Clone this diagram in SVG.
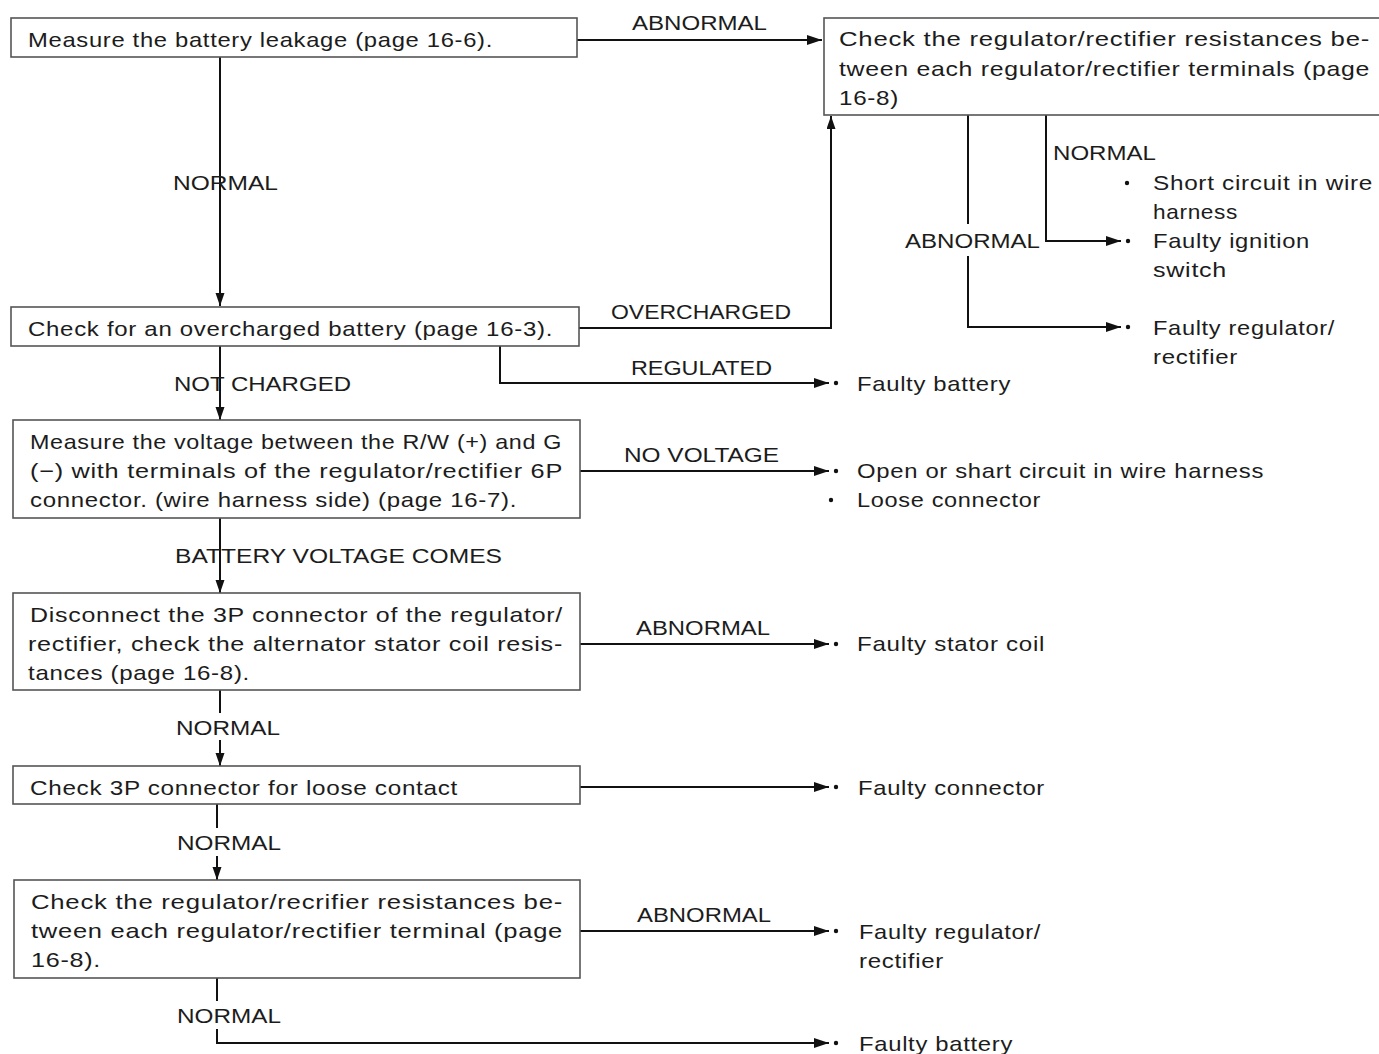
<svg xmlns="http://www.w3.org/2000/svg" width="1379" height="1054" viewBox="0 0 1379 1054">
<style>
text{font-family:"Liberation Sans",Arial,sans-serif;font-size:21px;letter-spacing:0.6px;fill:#1c1c1c}
.lb{font-size:20px;letter-spacing:0}
.box{fill:#fff;stroke:#555;stroke-width:1.6}
.ln{fill:none;stroke:#111;stroke-width:2}
.dot{fill:#111}
</style>
<defs>
<marker id="ah" markerUnits="userSpaceOnUse" markerWidth="16" markerHeight="12" refX="15" refY="5" orient="auto">
<path d="M0,0 L15,5 L0,10 z" fill="#111"/>
</marker>
<marker id="av" markerUnits="userSpaceOnUse" markerWidth="14" markerHeight="10" refX="13" refY="4.5" orient="auto">
<path d="M0,0 L13,4.5 L0,9 z" fill="#111"/>
</marker>
</defs>
<rect width="1379" height="1054" fill="#fff"/>

<g id="connectors">
<path class="ln" d="M577,40 H822" marker-end="url(#ah)"/>
<path class="ln" d="M220,57 V306" marker-end="url(#av)"/>
<path class="ln" d="M579,328 H831 V116" marker-end="url(#av)"/>
<path class="ln" d="M500,346 V383 H829" marker-end="url(#ah)"/>
<path class="ln" d="M220,346 V420" marker-end="url(#av)"/>
<path class="ln" d="M580,471 H829" marker-end="url(#ah)"/>
<path class="ln" d="M220,518 V593" marker-end="url(#av)"/>
<path class="ln" d="M580,644 H829" marker-end="url(#ah)"/>
<path class="ln" d="M220,690 V713"/>
<path class="ln" d="M220,740 V766" marker-end="url(#av)"/>
<path class="ln" d="M580,787 H829" marker-end="url(#ah)"/>
<path class="ln" d="M217,804 V828"/>
<path class="ln" d="M217,856 V880" marker-end="url(#av)"/>
<path class="ln" d="M580,931 H829" marker-end="url(#ah)"/>
<path class="ln" d="M217,978 V1001"/>
<path class="ln" d="M217,1029 V1043 H829" marker-end="url(#ah)"/>
<path class="ln" d="M1046,115 V241 H1121" marker-end="url(#ah)"/>
<path class="ln" d="M968,115 V224"/>
<path class="ln" d="M968,256 V327 H1121" marker-end="url(#ah)"/>
<circle class="dot" cx="836" cy="383" r="2.2"/>
<circle class="dot" cx="836" cy="471" r="2.2"/>
<circle class="dot" cx="831" cy="500" r="2.2"/>
<circle class="dot" cx="836" cy="644" r="2.2"/>
<circle class="dot" cx="836" cy="787" r="2.2"/>
<circle class="dot" cx="836" cy="931" r="2.2"/>
<circle class="dot" cx="836" cy="1043" r="2.2"/>
<circle class="dot" cx="1127" cy="183" r="2.2"/>
<circle class="dot" cx="1128" cy="241" r="2.2"/>
<circle class="dot" cx="1128" cy="327" r="2.2"/>
<text class="lb" x="632" y="30" textLength="135" lengthAdjust="spacingAndGlyphs">ABNORMAL</text>
<text class="lb" x="173" y="190" textLength="105" lengthAdjust="spacingAndGlyphs">NORMAL</text>
<text class="lb" x="611" y="319" textLength="180" lengthAdjust="spacingAndGlyphs">OVERCHARGED</text>
<text class="lb" x="631" y="375" textLength="141" lengthAdjust="spacingAndGlyphs">REGULATED</text>
<text class="lb" x="174" y="391" textLength="177" lengthAdjust="spacingAndGlyphs">NOT CHARGED</text>
<text class="lb" x="624" y="462" textLength="155" lengthAdjust="spacingAndGlyphs">NO VOLTAGE</text>
<text class="lb" x="175" y="563" textLength="327" lengthAdjust="spacingAndGlyphs">BATTERY VOLTAGE COMES</text>
<text class="lb" x="636" y="635" textLength="134" lengthAdjust="spacingAndGlyphs">ABNORMAL</text>
<text class="lb" x="176" y="735" textLength="104" lengthAdjust="spacingAndGlyphs">NORMAL</text>
<text class="lb" x="177" y="850" textLength="104" lengthAdjust="spacingAndGlyphs">NORMAL</text>
<text class="lb" x="637" y="922" textLength="134" lengthAdjust="spacingAndGlyphs">ABNORMAL</text>
<text class="lb" x="177" y="1023" textLength="104" lengthAdjust="spacingAndGlyphs">NORMAL</text>
<text class="lb" x="1053" y="160" textLength="103" lengthAdjust="spacingAndGlyphs">NORMAL</text>
<text class="lb" x="905" y="248" textLength="135" lengthAdjust="spacingAndGlyphs">ABNORMAL</text>
</g>

<g id="n1">
<rect class="box" x="11" y="18" width="566" height="39"/>
<text x="28" y="47" textLength="465" lengthAdjust="spacingAndGlyphs">Measure the battery leakage (page 16-6).</text>
</g>

<g id="n2">
<rect class="box" x="824" y="18" width="565" height="97"/>
<text x="839" y="46" textLength="531" lengthAdjust="spacingAndGlyphs">Check the regulator/rectifier resistances be-</text>
<text x="839" y="76" textLength="531" lengthAdjust="spacingAndGlyphs">tween each regulator/rectifier terminals (page</text>
<text x="839" y="105" textLength="60" lengthAdjust="spacingAndGlyphs">16-8)</text>
</g>

<g id="n3">
<rect class="box" x="11" y="307" width="568" height="39"/>
<text x="28" y="336" textLength="525" lengthAdjust="spacingAndGlyphs">Check for an overcharged battery (page 16-3).</text>
</g>

<g id="n4">
<rect class="box" x="13" y="420" width="567" height="98"/>
<text x="30" y="449" textLength="532" lengthAdjust="spacingAndGlyphs">Measure the voltage between the R/W (+) and G</text>
<text x="30" y="478" textLength="533" lengthAdjust="spacingAndGlyphs">(−) with terminals of the regulator/rectifier 6P</text>
<text x="30" y="507" textLength="487" lengthAdjust="spacingAndGlyphs">connector. (wire harness side) (page 16-7).</text>
</g>

<g id="n5">
<rect class="box" x="13" y="593" width="567" height="97"/>
<text x="30" y="622" textLength="533" lengthAdjust="spacingAndGlyphs">Disconnect the 3P connector of the regulator/</text>
<text x="28" y="651" textLength="535" lengthAdjust="spacingAndGlyphs">rectifier, check the alternator stator coil resis-</text>
<text x="28" y="680" textLength="222" lengthAdjust="spacingAndGlyphs">tances (page 16-8).</text>
</g>

<g id="n6">
<rect class="box" x="13" y="766" width="567" height="38"/>
<text x="30" y="795" textLength="428" lengthAdjust="spacingAndGlyphs">Check 3P connector for loose contact</text>
</g>

<g id="n7">
<rect class="box" x="14" y="880" width="566" height="98"/>
<text x="31" y="909" textLength="532" lengthAdjust="spacingAndGlyphs">Check the regulator/recrifier resistances be-</text>
<text x="31" y="938" textLength="532" lengthAdjust="spacingAndGlyphs">tween each regulator/rectifier terminal (page</text>
<text x="31" y="967" textLength="70" lengthAdjust="spacingAndGlyphs">16-8).</text>
</g>

<g id="r1"><text x="857" y="391" textLength="154" lengthAdjust="spacingAndGlyphs">Faulty battery</text></g>
<g id="r2">
<text x="857" y="478" textLength="407" lengthAdjust="spacingAndGlyphs">Open or shart circuit in wire harness</text>
<text x="857" y="507" textLength="184" lengthAdjust="spacingAndGlyphs">Loose connector</text>
</g>
<g id="r3"><text x="857" y="651" textLength="188" lengthAdjust="spacingAndGlyphs">Faulty stator coil</text></g>
<g id="r4"><text x="858" y="795" textLength="187" lengthAdjust="spacingAndGlyphs">Faulty connector</text></g>
<g id="r5">
<text x="859" y="939" textLength="182" lengthAdjust="spacingAndGlyphs">Faulty regulator/</text>
<text x="859" y="968" textLength="85" lengthAdjust="spacingAndGlyphs">rectifier</text>
</g>
<g id="r6"><text x="859" y="1051" textLength="154" lengthAdjust="spacingAndGlyphs">Faulty battery</text></g>
<g id="r7">
<text x="1153" y="190" textLength="220" lengthAdjust="spacingAndGlyphs">Short circuit in wire</text>
<text x="1153" y="219" textLength="85" lengthAdjust="spacingAndGlyphs">harness</text>
<text x="1153" y="248" textLength="157" lengthAdjust="spacingAndGlyphs">Faulty ignition</text>
<text x="1153" y="277" textLength="74" lengthAdjust="spacingAndGlyphs">switch</text>
</g>
<g id="r8">
<text x="1153" y="335" textLength="182" lengthAdjust="spacingAndGlyphs">Faulty regulator/</text>
<text x="1153" y="364" textLength="85" lengthAdjust="spacingAndGlyphs">rectifier</text>
</g>
</svg>
